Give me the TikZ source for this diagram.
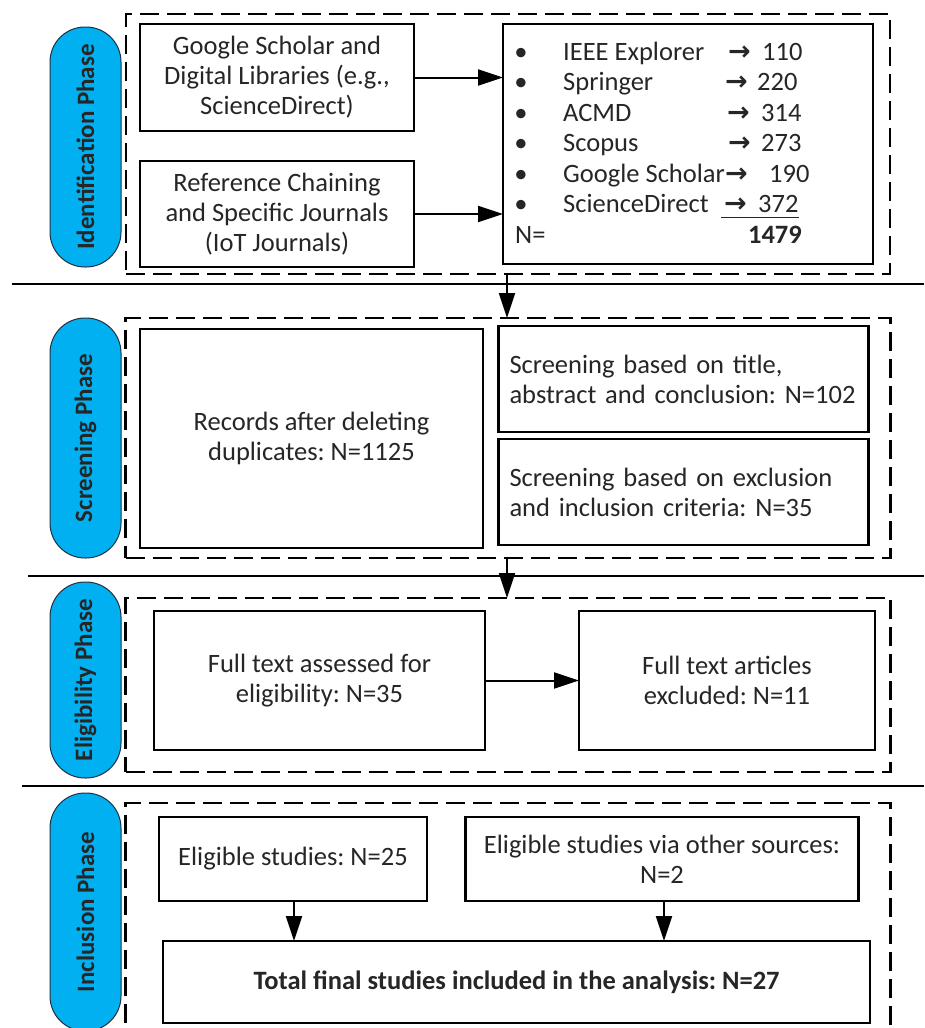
\documentclass[tikz,border=0pt]{standalone}
\usepackage{fontspec}
\setmainfont{Carlito}
\newfontfamily\arrowfont{DejaVu Sans}
\usetikzlibrary{arrows.meta}
\definecolor{pillblue}{HTML}{00B0F0}
\definecolor{pillline}{HTML}{1F3040}
\definecolor{txt}{HTML}{262626}
\tikzset{
  box/.style={draw=black, line width=2.6pt, inner sep=0pt, outer sep=0pt, text=txt, align=center},
  dashbox/.style={draw=black, line width=2.5pt, dash pattern=on 19pt off 8pt, inner sep=0pt, outer sep=0pt},
  pill/.style={draw=pillline, line width=1pt, fill=pillblue, rounded corners=35pt, rotate=90,
    minimum height=71pt, inner sep=0pt, outer sep=0pt, text=txt,
    font=\fontsize{25}{28}\selectfont\bfseries},
  conn/.style={draw=black, line width=2pt, -{Triangle[length=25pt,width=16pt]}},
  sep/.style={draw=black, line width=2pt},
  lt/.style={anchor=base west, inner sep=0pt, text=txt},
  arr/.style={anchor=base west, inner sep=0pt, text=txt, font=\fontsize{27}{30}\arrowfont\bfseries},
  lbox/.style={box, minimum width=370pt, minimum height=106pt, text width=348pt, inner xsep=11pt, align=left},
}
\begin{document}
\begin{tikzpicture}[x=1pt, y=-1pt, font=\fontsize{26.5}{30}\selectfont\frenchspacing]
\useasboundingbox[fill=white] (0,0) rectangle (924,1028);

% separators
\coordinate (s1a) at (12,284);  \coordinate (s1b) at (924,284);
\coordinate (s2a) at (28,576);  \coordinate (s2b) at (924,576);
\coordinate (s3a) at (22,786);  \coordinate (s3b) at (924,786);
\draw[sep] (s1a) -- (s1b);
\draw[sep] (s2a) -- (s2b);
\draw[sep] (s3a) -- (s3b);

% ---------- Identification ----------
\node[dashbox, minimum width=764pt, minimum height=260pt] (idbox) at (508,144) {};
\node[pill, minimum width=240pt] (p1) at (85.5,147) {Identification Phase};
\node[box, minimum width=274pt, minimum height=107pt] (g1) at (277,77.5)
  {Google Scholar and\\Digital Libraries (e.g.,\\ScienceDirect)};
\node[box, minimum width=274pt, minimum height=106pt] (g2) at (277,214)
  {Reference Chaining\\and Specific Journals\\(IoT Journals)};
\node[box, minimum width=370pt, minimum height=240pt] (list) at (688,144) {};

\foreach \nm/\bl/\ax [count=\i] in
  {IEEE Explorer/60/728, Springer/90.5/725, ACMD/121/727,
   Scopus/151.5/728, Google Scholar/182/725, ScienceDirect/212.5/724}{
  \node[anchor=base, inner sep=0pt, text=txt] (bu\i) at (521,\bl) {•};
  \node[lt] (nm\i) at (563,\bl) {\nm};
  \node[arr] (ar\i) at (\ax,\bl) {→};
}
\node[lt] (v1) at (762,60) {110};
\node[lt] (v2) at (757,90.5) {220};
\node[lt] (v3) at (761,121) {314};
\node[lt] (v4) at (761,151.5) {273};
\node[lt] (v5) at (769,182) {190};
\node[lt] (v6) at (758,212.5) {372};
\draw[line width=1.2pt, draw=txt] ([xshift=-3pt,yshift=-5pt]ar6.base west) -- ([yshift=-5pt]v6.base east);
\node[lt] (neq) at (515,243) {N=};
\node[anchor=base east, inner sep=0pt, text=txt, font=\fontsize{26.5}{30}\selectfont\bfseries] (tot) at (802,243) {1479};

\draw[conn] (g1.east) -- (g1.east -| list.west);
\draw[conn] (g2.east) -- (g2.east -| list.west);

% ---------- Screening ----------
\node[dashbox, minimum width=765pt, minimum height=240pt] (scbox) at (508,438) {};
\node[pill, minimum width=240pt] (p2) at (85.5,438) {Screening Phase};
\node[box, minimum width=343pt, minimum height=219pt] (rec) at (311.5,438.5)
  {Records after deleting\\duplicates: N=1125};
\node[lbox] (sc1) at (683.5,379)
  {\mbox{Screening based on title,}\\\mbox{abstract and conclusion: N=102}};
\node[lbox] (sc2) at (683.5,492)
  {\mbox{Screening based on exclusion}\\\mbox{and inclusion criteria: N=35}};

\coordinate (ax) at (507,0);
\draw[conn] (idbox.south -| ax) -- (scbox.north -| ax);

% ---------- Eligibility ----------
\node[dashbox, minimum width=765pt, minimum height=174pt] (elbox) at (508,685) {};
\node[pill, minimum width=196pt] (p3) at (85.5,680) {Eligibility Phase};
\node[box, minimum width=331pt, minimum height=139pt] (full) at (319.5,680.5)
  {Full text assessed for\\eligibility: N=35};
\node[box, minimum width=296pt, minimum height=139pt] (excl) at (727,680.5)
  {Full text articles\\excluded: N=11};

\draw[conn] (scbox.south -| ax) -- (elbox.north -| ax);
\draw[conn] (full.east) -- (excl.west);

% ---------- Inclusion ----------
\node[dashbox, minimum width=765pt, minimum height=240pt] (inbox) at (508,923) {};
\node[pill, minimum width=238pt] (p4) at (85.5,912) {Inclusion Phase};
\node[box, minimum width=268pt, minimum height=84pt] (es) at (293,859)
  {Eligible studies: N=25};
\node[box, minimum width=393pt, minimum height=84pt] (os) at (662,859)
  {Eligible studies via other sources:\\N=2};
\node[box, minimum width=707pt, minimum height=82pt, font=\fontsize{26.5}{30}\selectfont\bfseries\frenchspacing] (final) at (516.5,982)
  {Total final studies included in the analysis: N=27};

\coordinate (bx1) at (294,0);
\coordinate (bx2) at (664,0);
\draw[conn] (es.south -| bx1) -- (final.north -| bx1);
\draw[conn] (os.south -| bx2) -- (final.north -| bx2);
\end{tikzpicture}
\end{document}
